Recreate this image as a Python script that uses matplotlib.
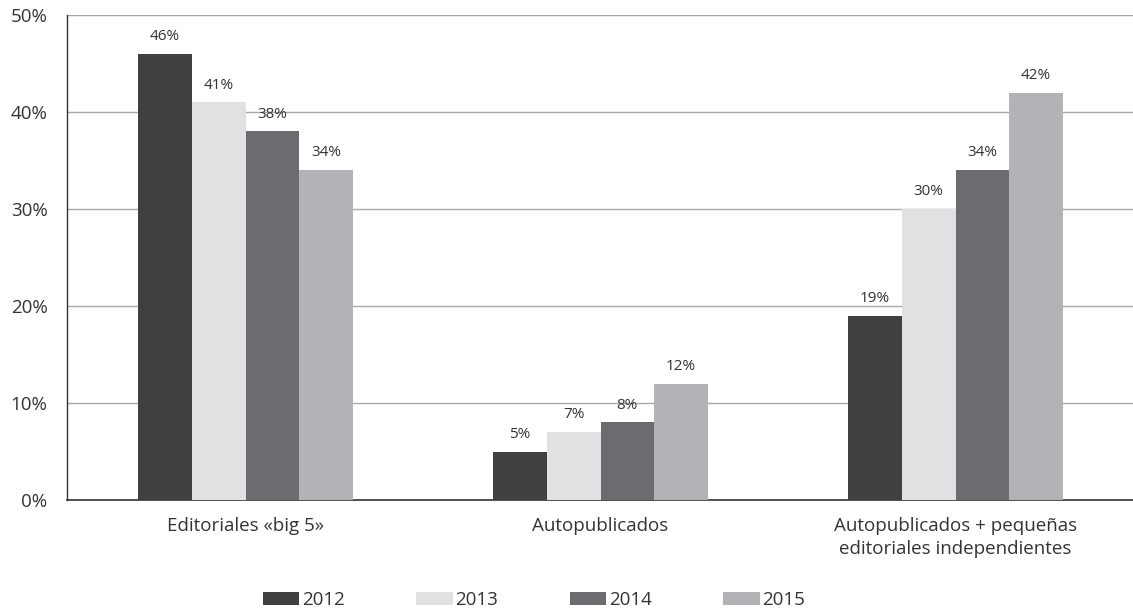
import matplotlib
matplotlib.use("Agg")
import matplotlib.pyplot as plt
import numpy as np
from matplotlib.patches import Patch

categories = ["Editoriales «big 5»", "Autopublicados", "Autopublicados + pequeñas\neditoriales independientes"]
years = ["2012", "2013", "2014", "2015"]
values = {
    "2012": [46, 5, 19],
    "2013": [41, 7, 30],
    "2014": [38, 8, 34],
    "2015": [34, 12, 42],
}
colors = ["#404040", "#e0e1e3", "#6b6c70", "#b2b3b6"]
yticks = [0, 10, 20, 30, 40, 50]

plt.rcParams['font.family'] = ['Open Sans', 'DejaVu Sans']

fig = plt.figure(figsize=(11.33, 6.12), dpi=100)
ax = fig.add_axes([67/1133, 112/612, 1 - 67/1133, 485/612])

x = np.arange(len(categories))
w = 0.151
for i, yr in enumerate(years):
    pos = x + (i - 1.5) * w
    bars = ax.bar(pos, values[yr], width=w, color=colors[i], zorder=3)
    for b, v in zip(bars, values[yr]):
        ax.text(b.get_x() + b.get_width() / 2, v + 1.0, f"{v}%", ha="center", va="bottom",
                fontsize=11, color="#333333")

ax.set_xlim(-0.503, 2.5)
ax.set_ylim(0, 50)
ax.set_yticks(yticks)
ax.set_yticklabels([f"{t}%" for t in yticks], fontsize=13.5, color="#333333")
ax.yaxis.grid(True, color="#a8a8a8", linewidth=1, zorder=0)
ax.set_xticks(x)
ax.set_xticklabels(categories, fontsize=13.5, color="#333333", linespacing=1.4)
ax.tick_params(axis="y", length=0, pad=14)
ax.tick_params(axis="x", length=0, pad=12)
for s in ["top", "right"]:
    ax.spines[s].set_visible(False)
ax.spines["left"].set_color("#333333")
ax.spines["bottom"].set_color("#333333")
ax.spines["left"].set_linewidth(1)
ax.spines["bottom"].set_linewidth(1.2)

handles = [Patch(facecolor=c, edgecolor="none") for c in colors]
fig.legend(handles, years, loc="center", bbox_to_anchor=(534/1133, 1 - 600/612), ncol=4,
           frameon=False, fontsize=13.5, handlelength=1.95, handleheight=0.65,
           columnspacing=3.8, handletextpad=0.15, labelcolor="#333333",
           borderpad=0, borderaxespad=0)

fig.savefig("out.png", dpi=100)
